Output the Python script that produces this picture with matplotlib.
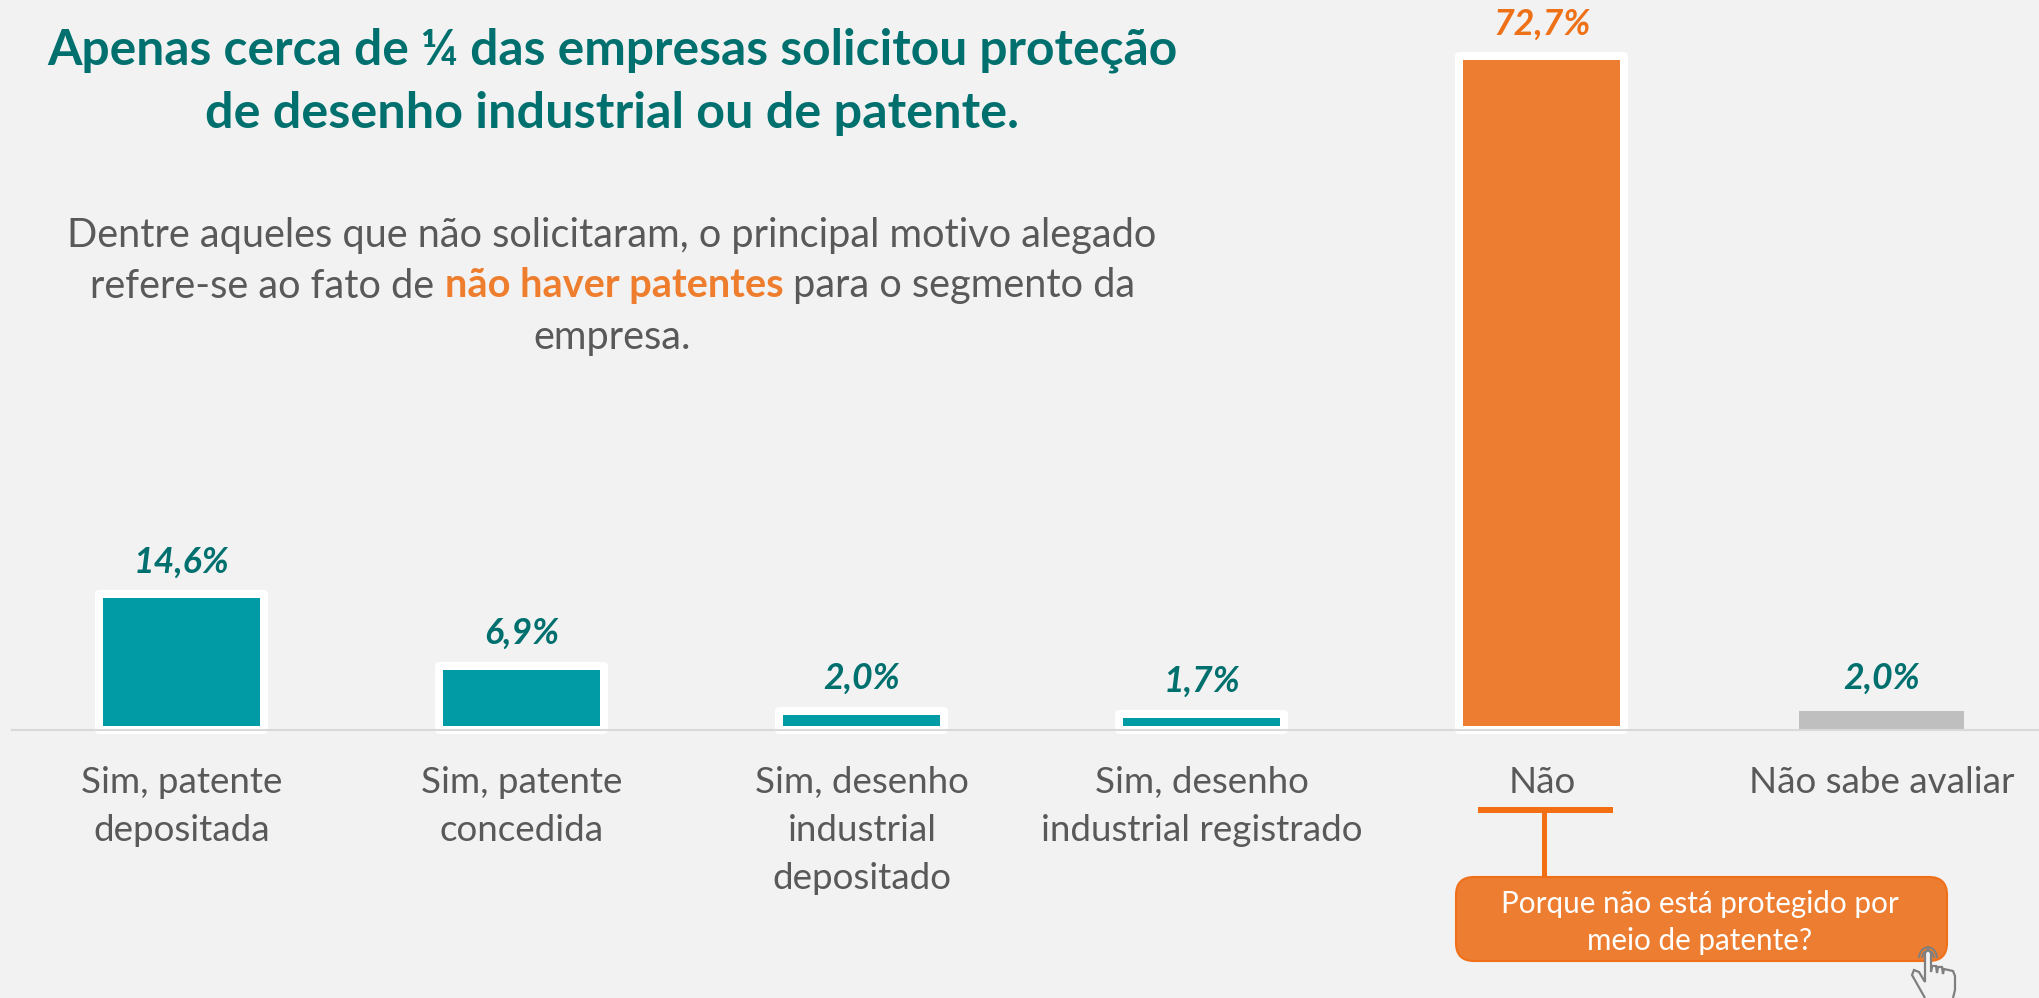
import matplotlib
matplotlib.use("Agg")
import matplotlib.pyplot as plt
from matplotlib.patches import FancyBboxPatch, Rectangle, PathPatch, Arc
from matplotlib.path import Path

categories = ["Sim, patente\ndepositada", "Sim, patente\nconcedida", "Sim, desenho\nindustrial\ndepositado",
              "Sim, desenho\nindustrial registrado", "Não", "Não sabe avaliar"]
values = [14.6, 6.9, 2.0, 1.7, 72.7, 2.0]
value_labels = ["14,6%", "6,9%", "2,0%", "1,7%", "72,7%", "2,0%"]
TEAL, ORANGE, GREY = "#009BA4", "#ED7D31", "#BFBFBF"
bar_colors = [TEAL, TEAL, TEAL, TEAL, ORANGE, GREY]
edge_widths = [8, 8, 8, 8, 8, 0]
label_colors = ["#00706F"] * 4 + ["#EE7017", "#00706F"]
BG = "#F2F2F2"; TXT = "#595959"; DARK = "#00706F"

W, H = 2040, 998
plt.rcParams["font.family"] = ["Lato", "DejaVu Sans"]
fig = plt.figure(figsize=(W/100, H/100), dpi=100, facecolor=BG)

base_y, k, left = 729.5, 9.26, 12
ymax = 75
ax = fig.add_axes([left/W, (H-base_y)/H, (W-left)/W, ymax*k/H], facecolor="none")
ax.set_xlim(-0.5, -0.5 + (W-left)/340)
ax.set_ylim(0, ymax)
bars = ax.bar(range(len(values)), values, width=165/340, color=bar_colors, edgecolor="white",
              clip_on=False, zorder=2)
for b, lw in zip(bars, edge_widths):
    b.set_joinstyle("round")
    b.set_linewidth(lw*0.72)
ax.set_yticks([])
for s in ["top", "left", "right"]:
    ax.spines[s].set_visible(False)
ax.spines["bottom"].set_color("#D9D9D9")
ax.spines["bottom"].set_linewidth(1.5)
ax.spines["bottom"].set_zorder(3)
ax.set_xticks(range(len(values)))
ax.set_xticklabels(categories, fontsize=26.5, color=TXT, linespacing=1.57, va="top")
ax.tick_params(axis="x", length=0, pad=26)
for i, (v, t, c) in enumerate(zip(values, value_labels, label_colors)):
    ax.annotate(t, (i, v), xytext=(0, 11.5), textcoords="offset points", ha="center", va="bottom",
                fontsize=25.7, fontweight="bold", fontstyle="italic", color=c, annotation_clip=False)

ov = fig.add_axes([0, 0, 1, 1], facecolor="none")
ov.set_xlim(0, W); ov.set_ylim(H, 0); ov.axis("off")

ov.text(612, 50, "Apenas cerca de ¼ das empresas solicitou proteção", ha="center", va="center",
        fontsize=35.8, fontweight="bold", color=DARK)
ov.text(612, 113, "de desenho industrial ou de patente.", ha="center", va="center",
        fontsize=36.2, fontweight="bold", color=DARK)
ov.text(612, 235, "Dentre aqueles que não solicitaram, o principal motivo alegado", ha="center", va="center",
        fontsize=28.6, color=TXT)
ov.text(612, 337, "empresa.", ha="center", va="center", fontsize=28.6, color=TXT)

# mixed-weight line, centred as a whole
parts = [("refere-se ao fato de ", TXT, "normal"), ("não haver patentes", "#EE7D2E", "bold"),
         (" para o segmento da", TXT, "normal")]
rend = fig.canvas.get_renderer()
texts = [ov.text(0, 286, p, ha="left", va="center", fontsize=28.6, color=c, fontweight=w) for p, c, w in parts]
widths = [t.get_window_extent(rend).width for t in texts]
x = 612 - sum(widths)/2 + 1
for t, wd in zip(texts, widths):
    t.set_x(x)
    x += wd

# callout
LINE = "#F26F14"
ov.add_patch(Rectangle((1478, 807), 135, 6, color=LINE, lw=0))
ov.add_patch(Rectangle((1542.5, 810), 5, 67, color=LINE, lw=0))
ov.add_patch(FancyBboxPatch((1456, 877), 491, 84, boxstyle="round,pad=0,rounding_size=18",
                            fc=ORANGE, ec="#F0701A", lw=1.5))
ov.text(1700, 904, "Porque não está protegido por", ha="center", va="center", fontsize=21.3, color="white")
ov.text(1700, 941, "meio de patente?", ha="center", va="center", fontsize=21.3, color="white")

# pointer icon
HAND = "#7F7F7F"
hand = [(1925, 998), (1912, 975), (1914, 970), (1919, 972), (1925, 982), (1925, 953), (1928, 949),
        (1931, 953), (1931, 972), (1932, 966), (1936, 966), (1937, 973), (1938, 967), (1942, 967),
        (1943, 974), (1944, 969), (1953, 971), (1955, 976), (1955, 990), (1953, 998)]
ov.add_patch(PathPatch(Path(hand), fc=BG, ec=HAND, lw=1.6))
for d in (12, 18):
    ov.add_patch(Arc((1928, 958), d, d*1.2, theta1=180, theta2=360, ec=HAND, lw=1.4))

fig.savefig("out.png", dpi=100, facecolor=BG)
